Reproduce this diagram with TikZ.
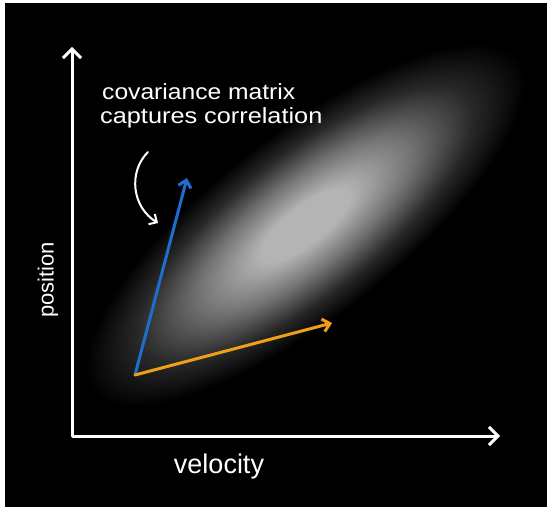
\documentclass[tikz,border=0pt]{standalone}
\usepackage{fontspec}
\usepackage{graphicx}
\setmainfont{Liberation Sans}
\usetikzlibrary{arrows.meta}
\definecolor{glowc}{RGB}{180,180,180}
\definecolor{glowm}{RGB}{115,115,115}
\definecolor{glowd}{RGB}{40,40,40}
\definecolor{blueV}{RGB}{30,110,210}
\definecolor{orangeV}{RGB}{240,160,20}
\pgfdeclareradialshading{glow}{\pgfpoint{0bp}{0bp}}{color(0bp)=(glowc); color(5bp)=(glowc); color(12bp)=(glowm); color(19bp)=(glowd); color(25bp)=(black); color(50bp)=(black)}
\begin{document}
\begin{tikzpicture}[x=1pt,y=1pt,
  axisbarb/.tip={Straight Barb[length=9pt,width=18pt,line width=3pt]},
  axis/.style={white, line width=3pt, line join=round, line cap=round, axisbarb-axisbarb},
  vec/.style={line width=3pt, line cap=round, -{Straight Barb[length=7pt,width=13pt,line width=3pt]}},
  annot/.style={white, line width=2pt, line cap=round, -{Straight Barb[length=6pt,width=12pt,line width=2pt]}},
  txt/.style={text=white, inner sep=0pt, font=\fontsize{22}{24}\selectfont}]
\useasboundingbox (0,0) rectangle (547,507);
\fill[white] (0,0) rectangle (547,507);
\fill[black] (5,0) rectangle (547,504);
\begin{scope}[transform canvas={rotate around={38:(305,282)}}]
  \shade[shading=glow] (305,282) ellipse (270 and 92);
\end{scope}
\coordinate (corner) at (72,71);
\coordinate (ytip) at (72,460);
\coordinate (xtip) at (500,71);
\draw[axis] (ytip) -- (corner) -- (xtip);
\coordinate (o) at (135,132);
\coordinate (b) at (187,329);
\coordinate (r) at (332,184);
\draw[vec, blueV] (o) -- (b);
\draw[vec, orangeV] (o) -- (r);
\node[txt, anchor=base west] (cov) at (102,407) {\scalebox{1.12}[1]{covariance matrix}};
\node[txt, anchor=base west] (cap) at (100,383) {\scalebox{1.15}[1]{captures correlation}};
\coordinate (c1) at (148,355);
\coordinate (c2) at (158,284);
\draw[annot] (c1) .. controls (128,335) and (132,300) .. (c2);
\node[txt, font=\fontsize{27}{30}\selectfont] (vel) at (219,40) {velocity};
\node[txt, rotate=90, font=\fontsize{22}{24}\selectfont] (pos) at (48,227) {position};
\end{tikzpicture}
\end{document}
